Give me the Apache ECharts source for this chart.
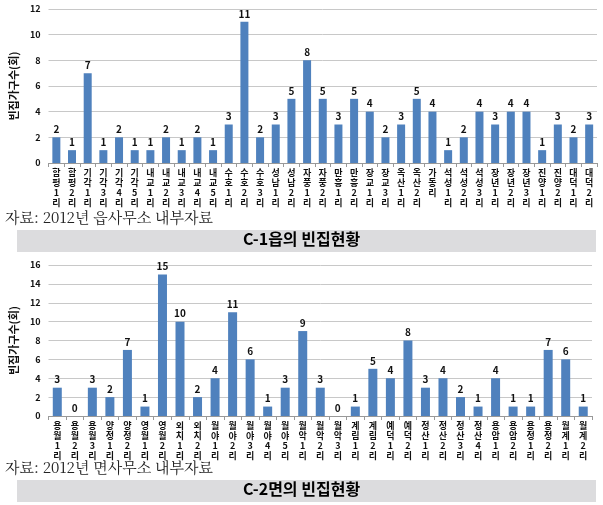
<!DOCTYPE html>
<html><head><meta charset="utf-8">
<script src="https://cdn.jsdelivr.net/npm/echarts@6/dist/echarts.min.js"></script>
<style>html,body{margin:0;padding:0;background:#fff}#c{width:603px;height:505px}</style>
</head><body><div id="c"></div>
<script>
const cats1 = ['함평1리','함평2리','기각1리','기각3리','기각4리','기각5리','내교1리','내교2리','내교3리','내교4리','내교5리','수호1리','수호2리','수호3리','성남1리','성남2리','자풍1리','자풍2리','만흥1리','만흥2리','장교1리','장교3리','옥산1리','옥산2리','가동리','석성1리','석성2리','석성3리','장년1리','장년2리','장년3리','진양1리','진양2리','대덕1리','대덕2리'];
const vals1 = [2,1,7,1,2,1,1,2,1,2,1,3,11,2,3,5,8,5,3,5,4,2,3,5,4,1,2,4,3,4,4,1,3,2,3];
const cats2 = ['용월1리','용월2리','용월3리','양정1리','양정2리','영월1리','영월2리','외치1리','외치2리','월야1리','월야2리','월야3리','월야4리','월야5리','월악1리','월악2리','월악3리','계림1리','계림2리','예덕1리','예덕2리','정산1리','정산2리','정산3리','정산4리','용암1리','용암2리','용정1리','용정2리','월계1리','월계2리'];
const vals2 = [3,0,3,2,7,1,15,10,2,4,11,6,1,3,9,3,0,1,5,4,8,3,4,2,1,4,1,1,7,6,1];
const yTicks1 = {min:0,max:12,interval:2};
const yTicks2 = {min:0,max:16,interval:2};
const yName = '빈집가구수(회)';
const source1 = '자료: 2012년 읍사무소 내부자료';
const source2 = '자료: 2012년 면사무소 내부자료';
const title1 = 'C-1읍의 빈집현황';
const title2 = 'C-2면의 빈집현황';

const FONT = '"Noto Sans CJK KR", sans-serif';
const SERIF = '"Noto Serif CJK KR", "Liberation Serif", "Noto Sans CJK KR", serif';
const chart = echarts.init(document.getElementById('c'));
function xAxis(cats, gi){
  return {type:'category', gridIndex:gi, data:cats,
    axisLine:{lineStyle:{color:'#999'}},
    axisTick:{show:true, alignWithLabel:false, length:4, lineStyle:{color:'#999'}},
    axisLabel:{interval:0, color:'#111', fontWeight:'bold', fontSize:9, fontFamily:FONT, lineHeight:10, margin:5,
      formatter:v=>v.split('').join('\n')}};
}
function yAxis(t, gi){
  return {type:'value', gridIndex:gi, min:t.min, max:t.max, interval:t.interval,
    name:yName, nameLocation:'middle', nameGap:20, nameRotate:90,
    nameTextStyle:{color:'#111', fontWeight:'bold', fontSize:11, fontFamily:FONT},
    axisLine:{show:false}, axisTick:{show:false},
    axisLabel:{color:'#111', fontWeight:'bold', fontSize:9, fontFamily:FONT, margin:8},
    splitLine:{lineStyle:{color:'#c8c8c8'}}};
}
function series(vals, gi, bw){
  return {type:'bar', xAxisIndex:gi, yAxisIndex:gi, data:vals, barWidth:bw,
    itemStyle:{color:'#4f81bd'},
    label:{show:true, position:'top', distance:3, color:'#111', fontWeight:'bold', fontSize:10, fontFamily:FONT}};
}
chart.setOption({
  animation:false,
  grid:[{left:43, right:6, top:9, height:154},{left:48, right:11, top:265, height:151}],
  xAxis:[xAxis(cats1,0), xAxis(cats2,1)],
  yAxis:[yAxis(yTicks1,0), yAxis(yTicks2,1)],
  series:[series(vals1,0,8), series(vals2,1,9)],
  graphic:[
    {type:'rect', shape:{x:17,y:230,width:579,height:22}, style:{fill:'#dcdcde'}, z:0},
    {type:'rect', shape:{x:17,y:480,width:579,height:22}, style:{fill:'#dcdcde'}, z:0},
    {type:'text', left:5, top:210, style:{text:source1, font:'15px '+SERIF, fill:'#222'}},
    {type:'text', left:5, top:460, style:{text:source2, font:'15px '+SERIF, fill:'#222'}},
    {type:'text', left:'center', top:231, style:{text:title1, font:'bold 16px '+FONT, fill:'#000'}, z:5},
    {type:'text', left:'center', top:481, style:{text:title2, font:'bold 16px '+FONT, fill:'#000'}, z:5}
  ]
});
</script></body></html>
